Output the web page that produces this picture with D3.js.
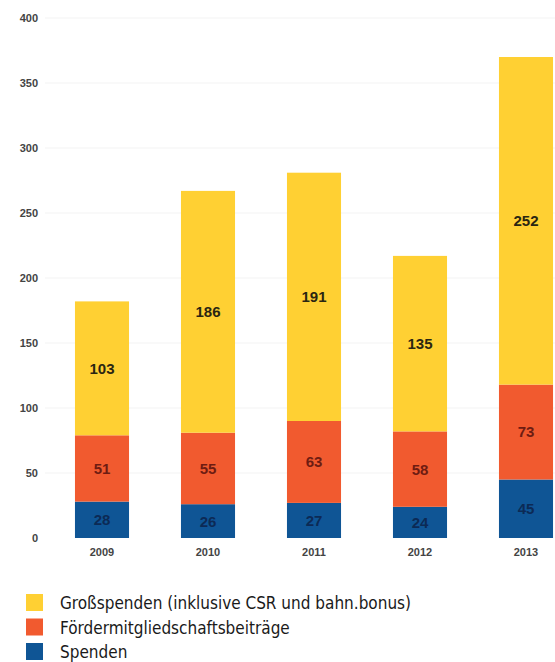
<!DOCTYPE html>
<html>
<head>
<meta charset="utf-8">
<script src="https://cdn.jsdelivr.net/npm/d3@7"></script>
<style>
  body { margin: 0; background: #fff; }
  svg { display: block; }
  .tick-lbl { font-family: "Liberation Sans", Arial, sans-serif; font-weight: bold; font-size: 11px; fill: #444; }
  .val { font-family: "Liberation Sans", Arial, sans-serif; font-weight: bold; font-size: 15px; }
  .leg { font-family: "DejaVu Sans Condensed", "Liberation Sans Narrow", sans-serif; font-stretch: condensed; font-size: 17px; fill: #1a1a1a; }
</style>
</head>
<body>
<svg id="chart" width="555" height="662"></svg>
<script>
// data
var years = ['2009', '2010', '2011', '2012', '2013'];
var spenden = [28, 26, 27, 24, 45];
var foerder = [51, 55, 63, 58, 73];
var gross = [103, 186, 191, 135, 252];
var yTicks = [0, 50, 100, 150, 200, 250, 300, 350, 400];

var seriesKeys = ['spenden', 'foerder', 'gross'];
var seriesNames = {
    gross: 'Großspenden (inklusive CSR und bahn.bonus)',
    foerder: 'Fördermitgliedschaftsbeiträge',
    spenden: 'Spenden'
};
var colors = { spenden: '#0f5595', foerder: '#f15a2f', gross: '#ffd033' };
var textColors = { spenden: '#0c2a55', foerder: '#6e1c12', gross: '#2a2612' };

var rows = years.map(function (y, i) {
    return { year: y, spenden: spenden[i], foerder: foerder[i], gross: gross[i] };
});

var svg = d3.select('#chart');

var y = d3.scaleLinear().domain([0, 400]).range([538, 18]);
var x = d3.scaleBand().domain(years).range([49, 579])
    .paddingInner(0.49).paddingOuter(0.245);

//grid
svg.append('g').selectAll('line')
    .data(yTicks.slice(1))
    .enter().append('line')
    .attr('x1', 45).attr('x2', 555)
    .attr('y1', function (d) { return y(d); })
    .attr('y2', function (d) { return y(d); })
    .attr('stroke', '#f3f3f3')
    .attr('stroke-width', 1);

//y labels
svg.append('g').selectAll('text')
    .data(yTicks)
    .enter().append('text')
    .attr('class', 'tick-lbl')
    .attr('x', 38)
    .attr('y', function (d) { return y(d); })
    .attr('dy', '0.35em')
    .attr('text-anchor', 'end')
    .text(function (d) { return d; });

//x labels
svg.append('g').selectAll('text')
    .data(years)
    .enter().append('text')
    .attr('class', 'tick-lbl')
    .attr('x', function (d) { return x(d) + x.bandwidth() / 2; })
    .attr('y', 556)
    .attr('text-anchor', 'middle')
    .text(function (d) { return d; });

var stacked = d3.stack().keys(seriesKeys)(rows);

var layer = svg.append('g').selectAll('g')
    .data(stacked)
    .enter().append('g');

layer.selectAll('rect')
    .data(function (s) { return s.map(function (d) { d.key = s.key; return d; }); })
    .enter().append('rect')
    .attr('x', function (d) { return x(d.data.year); })
    .attr('width', x.bandwidth())
    .attr('y', function (d) { return y(d[1]); })
    .attr('height', function (d) { return y(d[0]) - y(d[1]); })
    .attr('fill', function (d) { return colors[d.key]; });

layer.selectAll('text')
    .data(function (s) { return s; })
    .enter().append('text')
    .attr('class', 'val')
    .attr('x', function (d) { return x(d.data.year) + x.bandwidth() / 2; })
    .attr('y', function (d) { return (y(d[0]) + y(d[1])) / 2; })
    .attr('dy', '0.36em')
    .attr('text-anchor', 'middle')
    .attr('fill', function (d) { return textColors[d.key]; })
    .text(function (d) { return d[1] - d[0]; });

//legend
var legKeys = ['gross', 'foerder', 'spenden'];
var leg = svg.append('g').selectAll('g')
    .data(legKeys)
    .enter().append('g')
    .attr('transform', function (d, i) { return 'translate(26,' + (594 + i * 24.5) + ')'; });

leg.append('rect')
    .attr('width', 17).attr('height', 17)
    .attr('fill', function (d) { return colors[d]; });

leg.append('text')
    .attr('class', 'leg')
    .attr('x', 34)
    .attr('y', 9)
    .attr('dy', '0.36em')
    .text(function (d) { return seriesNames[d]; });
</script>
</body>
</html>
